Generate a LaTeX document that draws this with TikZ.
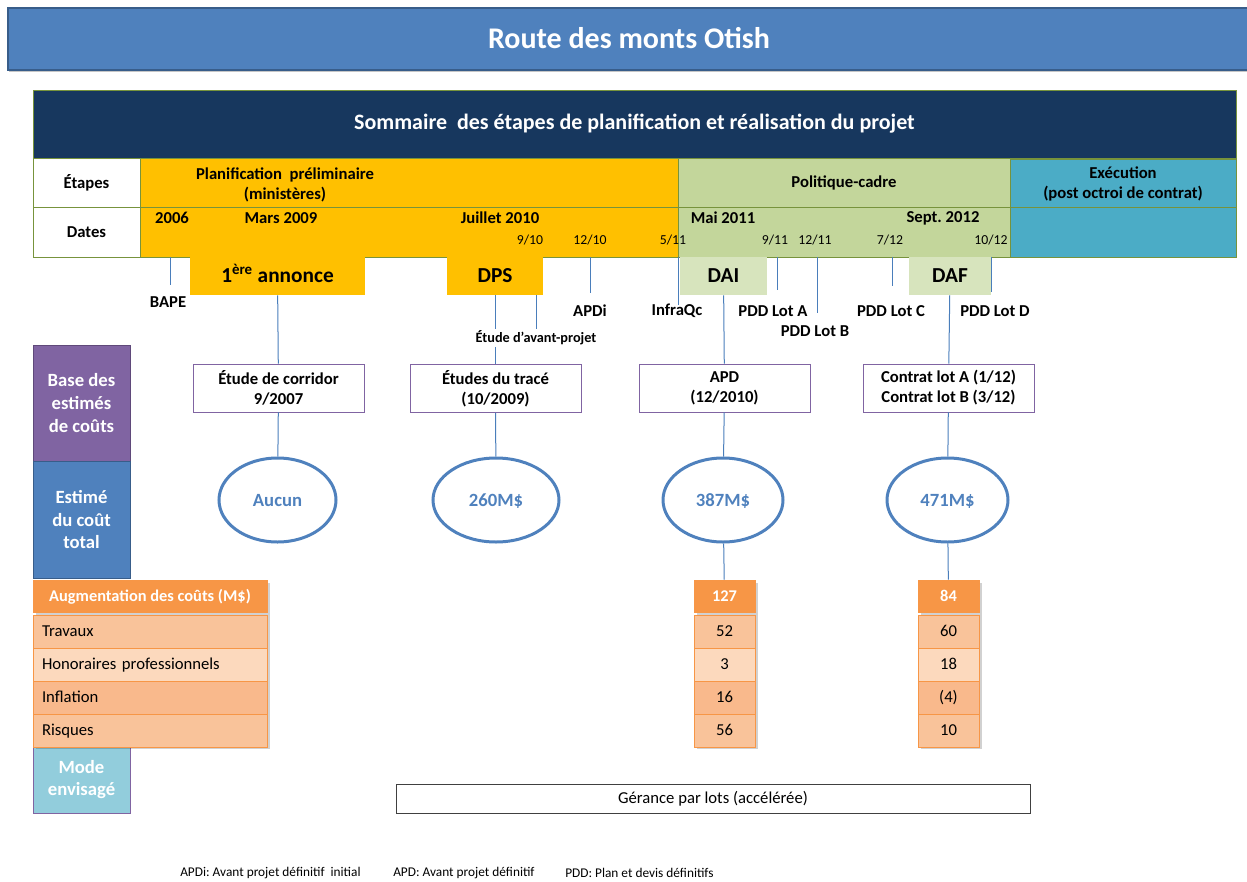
\documentclass[tikz,border=0pt]{standalone}
\usepackage{fontspec}
\setmainfont{Carlito}
\usetikzlibrary{shapes.geometric,shadows}
\frenchspacing

\newlength\px
\setlength\px{0.75pt}

\definecolor{titleblue}{HTML}{4F81BD}
\definecolor{titleedge}{HTML}{385D8A}
\definecolor{navy}{HTML}{17375E}
\definecolor{gold}{HTML}{FFC000}
\definecolor{sage}{HTML}{C3D69B}
\definecolor{palesage}{HTML}{D7E4BD}
\definecolor{execblue}{HTML}{4BACC6}
\definecolor{olivegreen}{HTML}{77933C}
\definecolor{plum}{HTML}{8064A2}
\definecolor{plumedge}{HTML}{5F497A}
\definecolor{skyblue}{HTML}{92CDDC}
\definecolor{tangerine}{HTML}{F79646}
\definecolor{peach}{HTML}{F9C39A}
\definecolor{lightpeach}{HTML}{FCD9BD}
\definecolor{deeppeach}{HTML}{F9B98C}
\definecolor{linkblue}{HTML}{4A7EBB}

\tikzset{%
  % Specifications for style of nodes:
        base/.style = {rectangle, inner sep=0pt, align=center,
                       font=\fontsize{12.5}{15}\selectfont\bfseries},
     oneline/.style = {text height=#1, text depth=0pt},
       phase/.style = {base, draw=olivegreen},
      banner/.style = {base, oneline=10.3pt, minimum height=38\px,
                       font=\fontsize{16}{18}\selectfont\bfseries},
    sidehead/.style = {base, text=white, minimum width=97\px,
                       font=\fontsize{14}{17}\selectfont\bfseries},
    estimbox/.style = {base, draw=plum, fill=white,
                       minimum width=171\px, minimum height=48\px},
    estimate/.style = {ellipse, oneline=9pt, draw=titleblue, line width=3\px, text=titleblue,
                       minimum height=84\px, inner sep=0pt,
                       font=\fontsize{14}{16}\selectfont\bfseries},
     datelbl/.style = {inner sep=0pt, font=\fontsize{12.5}{15}\selectfont\bfseries},
       month/.style = {inner sep=0pt, font=\fontsize{10.3}{12}\selectfont},
      marker/.style = {inner sep=1pt, font=\fontsize{12.5}{15}\selectfont\bfseries},
        link/.style = {draw=linkblue, line width=1\px},
   tablehead/.style = {base, oneline=7.9pt, fill=tangerine, draw=tangerine, text=white,
                       minimum height=32\px, font=\fontsize{12.3}{14}\selectfont\bfseries},
    tablerow/.style = {base, oneline=8pt, draw=tangerine, line width=1\px, minimum height=33\px,
                       font=\fontsize{12.5}{14}\selectfont},
    labelrow/.style = {tablerow, text width=216\px, inner xsep=9\px, align=left},
   footnote/.style = {anchor=west, inner sep=0pt, font=\fontsize{10}{12}\selectfont},
}

\begin{document}
\begin{tikzpicture}[x=0.75pt, y=-0.75pt]
  \useasboundingbox (0,0) rectangle (1247,882);

  % title
  \node (title) [base, oneline=14.5pt, fill=titleblue, draw=titleedge, line width=2\px, text=white,
        minimum width=1242\px, minimum height=62\px,
        drop shadow={shadow xshift=1pt, shadow yshift=-2pt, opacity=0.45},
        font=\fontsize{22.5}{26}\selectfont\bfseries] at (629,38.5) {Route des monts Otish};

  % summary table
  \node (summary)     [phase, fill=navy, text=white, minimum width=1203\px, minimum height=68\px,
                       font=\fontsize{16.5}{19}\selectfont\bfseries] at (634.5,124)
                      {Sommaire\ \ des étapes de planification et réalisation du projet};
  \node (stages)      [phase, fill=white, minimum width=107\px, minimum height=49\px] at (86.5,182.5) {Étapes};
  \node (dates)       [phase, fill=white, minimum width=107\px, minimum height=50\px] at (86.5,232) {Dates};
  \node (plan)        [phase, fill=gold, minimum width=538\px, minimum height=49\px] at (409,182.5) {};
  \node (plandates)   [phase, fill=gold, minimum width=538\px, minimum height=50\px] at (409,232) {};
  \node (policy)      [phase, fill=sage, minimum width=332\px, minimum height=49\px] at (844,182.5) {Politique-cadre};
  \node (policydates) [phase, fill=sage, minimum width=332\px, minimum height=50\px] at (844,232) {};
  \node (exec)        [phase, fill=execblue, minimum width=226\px, minimum height=49\px] at (1123,184)
                      {Exécution\\(post octroi de contrat)};
  \node (execdates)   [phase, fill=execblue, minimum width=226\px, minimum height=50\px] at (1123,232) {};
  \node (plantext)    [base] at (285,185) {Planification\ \ préliminaire\\(ministères)};

  \node (y2006) [datelbl] at (172,218) {2006};
  \node (mar09) [datelbl] at (281,218) {Mars 2009};
  \node (jul10) [datelbl] at (500,218) {Juillet 2010};
  \node (may11) [datelbl] at (723,218) {Mai 2011};
  \node (sep12) [datelbl] at (943,218) {Sept. 2012};

  \node (m0910) [month] at (530,240) {9/10};
  \node (m1210) [month] at (590,240) {12/10};
  \node (m0511) [month] at (673,240) {5/11};
  \node (m0911) [month] at (775,240) {9/11};
  \node (m1211) [month] at (815,240) {12/11};
  \node (m0712) [month] at (890,240) {7/12};
  \node (m1012) [month] at (991,240) {10/12};

  % milestones
  \node (annonce) [banner, fill=gold, minimum width=175\px] at (277.5,276) {1\textsuperscript{ère} annonce};
  \node (dps)     [banner, fill=gold, minimum width=96\px] at (495,276) {DPS};
  \node (dai)     [banner, fill=palesage, minimum width=87\px] at (723.5,276) {DAI};
  \node (daf)     [banner, fill=palesage, minimum width=82\px] at (950,276) {DAF};

  \node (bape)    [marker] at (168,302) {BAPE};
  \node (apdi)    [marker] at (590,311) {APDi};
  \node (infraqc) [marker] at (677,311) {InfraQc};
  \node (lota)    [marker] at (773,311) {PDD Lot A};
  \node (lotb)    [marker] at (815,331) {PDD Lot B};
  \node (lotc)    [marker] at (891,311) {PDD Lot C};
  \node (lotd)    [marker] at (995,311) {PDD Lot D};
  \node (avp)     [marker, font=\fontsize{10.7}{12}\selectfont\bfseries] at (536,338) {Étude d’avant-projet};

  \coordinate (bapeend)    at (170,285);
  \coordinate (apdiend)    at (590,293);
  \coordinate (infraqcend) at (678,305);
  \coordinate (lotaend)    at (777,290);
  \coordinate (lotbend)    at (817,313);
  \coordinate (lotcend)    at (892,286);
  \coordinate (lotdend)    at (991,292);

  \draw[link] (plandates.south -| bapeend)     -- (bapeend);
  \draw[link] (plandates.south -| apdiend)     -- (apdiend);
  \draw[link] (plandates.south -| infraqcend)  -- (infraqcend);
  \draw[link] (policydates.south -| lotaend)   -- (lotaend);
  \draw[link] (policydates.south -| lotbend)   -- (lotbend);
  \draw[link] (policydates.south -| lotcend)   -- (lotcend);
  \draw[link] (policydates.south -| lotdend)   -- (lotdend);

  % side headings
  \node (basehead) [sidehead, fill=plum, draw=plumedge, minimum height=116\px] at (81.5,403)
                   {Base des\\estimés\\de coûts};
  \node (esthead)  [sidehead, fill=titleblue, draw=titleedge, minimum height=117\px] at (81.5,519.5)
                   {Estimé\\du coût\\total};
  \node (modehead) [sidehead, fill=skyblue, draw=plum, minimum height=67\px] at (81.5,779.5)
                   {Mode\\envisagé};

  % cost estimate bases
  \node (corridor) [estimbox] at (278.5,388) {Étude de corridor\\9/2007};
  \node (trace)    [estimbox] at (495.5,388.5) {Études du tracé\\(10/2009)};
  \node (apd)      [estimbox] at (724.5,388) {APD\\(12/2010)};
  \node (contrat)  [estimbox] at (948.5,388) {Contrat lot A (1/12)\\Contrat lot B (3/12)};

  \node (aucun) [estimate, minimum width=117\px] at (277.5,500) {Aucun};
  \node (e260)  [estimate, minimum width=126\px] at (496,500) {260M\$};
  \node (e387)  [estimate, minimum width=120\px] at (723,500) {387M\$};
  \node (e471)  [estimate, minimum width=121\px] at (947.5,500) {471M\$};

  \draw[link] (annonce) -- (corridor);
  \draw[link] (dps.south -| trace.north) -- (avp.north -| trace.north);
  \draw[link] (avp.south -| trace.north) -- (trace.north);
  \draw[link] (dps.south -| avp.north) -- (avp.north);
  \draw[link] (dai) -- (apd);
  \draw[link] (daf) -- (contrat);
  \draw[link] (corridor) -- (aucun);
  \draw[link] (trace)    -- (e260);
  \draw[link] (apd)      -- (e387);
  \draw[link] (contrat)  -- (e471);

  % cost increase
  \fill[black, opacity=0.18] (36,583) rectangle (270,749);
  \fill[black, opacity=0.18] (697,583) rectangle (758,749);
  \fill[black, opacity=0.18] (921,583) rectangle (982,749);

  \node (costhead) [tablehead, minimum width=234\px] at (150,596) {Augmentation des coûts (M\$)};
  \node (works)    [labelrow, fill=peach]      at (150,631.5) {Travaux};
  \node (fees)     [labelrow, fill=lightpeach] at (150,664.5) {Honoraires professionnels};
  \node (infl)     [labelrow, fill=deeppeach]  at (150,697.5) {Inflation};
  \node (risks)    [labelrow, fill=peach]      at (150,730.5) {Risques};

  \node (h127) [tablehead, minimum width=61\px] at (724.5,596) {127};
  \node (w127) [tablerow, fill=peach, minimum width=61\px]      at (724.5,631.5) {52};
  \node (f127) [tablerow, fill=lightpeach, minimum width=61\px] at (724.5,664.5) {3};
  \node (i127) [tablerow, fill=deeppeach, minimum width=61\px]  at (724.5,697.5) {16};
  \node (r127) [tablerow, fill=peach, minimum width=61\px]      at (724.5,730.5) {56};

  \node (h84) [tablehead, minimum width=61\px] at (948.5,596) {84};
  \node (w84) [tablerow, fill=peach, minimum width=61\px]      at (948.5,631.5) {60};
  \node (f84) [tablerow, fill=lightpeach, minimum width=61\px] at (948.5,664.5) {18};
  \node (i84) [tablerow, fill=deeppeach, minimum width=61\px]  at (948.5,697.5) {(4)};
  \node (r84) [tablerow, fill=peach, minimum width=61\px]      at (948.5,730.5) {10};

  \draw[link] (e387) -- (h127);
  \draw[link] (e471) -- (h84);

  % mode
  \node (gerance) [base, oneline=8pt, draw=black!75, line width=1\px, minimum width=634\px, minimum height=29\px,
                   font=\fontsize{12.5}{14}\selectfont] at (713,798.5) {Gérance par lots (accélérée)};

  % footnotes
  \node (fnapdi) [footnote] at (180,873) {APDi: Avant projet définitif\ \ initial};
  \node (fnapd)  [footnote] at (393,873) {APD: Avant projet définitif};
  \node (fnpdd)  [footnote] at (565,873) {PDD: Plan et devis définitifs};
\end{tikzpicture}
\end{document}
